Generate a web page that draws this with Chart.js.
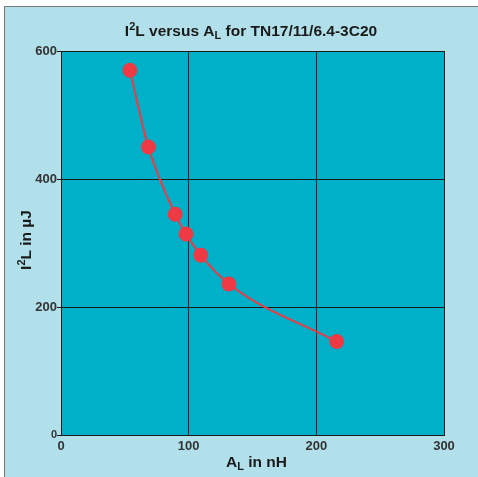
<!DOCTYPE html>
<html>
<head>
<meta charset="utf-8">
<script src="https://cdn.jsdelivr.net/npm/chart.js@4"></script>
<style>
  html, body { margin: 0; padding: 0; background: #fff; }
  #wrap { width: 478px; height: 477px; }
</style>
</head>
<body>
<div id="wrap"><canvas id="chart" width="478" height="477"></canvas></div>
<script>
// data
const alValues = [54, 68.5, 89.5, 98, 109.5, 131.5, 216];   // A_L in nH
const i2lValues = [570, 450, 345, 314, 281, 236, 146];     // I2L in uJ
const xTicks = [0, 100, 200, 300];
const yTicks = [0, 200, 400, 600];

const FONT = "'Liberation Sans', Arial, Helvetica, sans-serif";

// draw text with sub/superscript pieces
function drawRich(ctx, parts, x, y, size) {
  const small = Math.round(size * 0.72);
  let total = 0;
  parts.forEach(p => {
    ctx.font = "bold " + (p.sup || p.sub ? small : size) + "px " + FONT;
    p.w = ctx.measureText(p.t).width;
    total += p.w;
  });
  let cx = x - total / 2;
  ctx.textBaseline = "alphabetic";
  ctx.textAlign = "left";
  parts.forEach(p => {
    ctx.font = "bold " + (p.sup || p.sub ? small : size) + "px " + FONT;
    let dy = 0;
    if (p.sup) dy = -size * 0.38;
    if (p.sub) dy = size * 0.22;
    ctx.fillText(p.t, cx, y + dy);
    cx += p.w;
  });
}

const framePlugin = {
  id: "frame",
  beforeDraw(chart) {
    const ctx = chart.ctx;
    const a = chart.chartArea;
    ctx.save();
    ctx.fillStyle = "#ffffff";
    ctx.fillRect(0, 0, chart.width, chart.height);
    ctx.fillStyle = "#b2e0ea";
    ctx.fillRect(4, 6, chart.width - 4, chart.height - 6);
    ctx.strokeStyle = "#777";
    ctx.lineWidth = 1;
    ctx.beginPath();
    ctx.moveTo(4.5, chart.height);
    ctx.lineTo(4.5, 6.5);
    ctx.lineTo(chart.width, 6.5);
    ctx.stroke();
    ctx.fillStyle = "#00afc8";
    ctx.fillRect(a.left, a.top, a.right - a.left, a.bottom - a.top);
    ctx.restore();
  },
  afterDraw(chart) {
    const ctx = chart.ctx;
    const a = chart.chartArea;
    ctx.save();
    ctx.fillStyle = "#1a1a1a";
    drawRich(ctx, [{t: "I"}, {t: "2", sup: true}, {t: "L versus A"}, {t: "L", sub: true}, {t: " for TN17/11/6.4-3C20"}],
      251, 36, 15.5);
    drawRich(ctx, [{t: "A"}, {t: "L", sub: true}, {t: " in nH"}], (a.left + a.right) / 2 + 4, 467, 15.5);
    ctx.translate(31, 240);
    ctx.rotate(-Math.PI / 2);
    drawRich(ctx, [{t: "I"}, {t: "2", sup: true}, {t: "L in \u00b5J"}], 0, 0, 15.5);
    ctx.restore();
  }
};

new Chart(document.getElementById("chart"), {
  type: "scatter",
  data: {
    datasets: [{
      data: alValues.map((v, i) => ({ x: v, y: i2lValues[i] })),
      showLine: true,
      borderColor: "#ee3a44",
      backgroundColor: "#ee3a44",
      borderWidth: 2,
      pointRadius: 6.5,
      pointHoverRadius: 6.5,
      cubicInterpolationMode: "monotone"
    }]
  },
  options: {
    responsive: false,
    animation: false,
    layout: { padding: { left: 0, top: 51, right: 34, bottom: 0 } },
    plugins: { legend: { display: false }, tooltip: { enabled: false } },
    scales: {
      x: {
        type: "linear",
        min: 0, max: 300,
        afterBuildTicks: s => { s.ticks = xTicks.map(v => ({ value: v })); },
        afterFit: s => { s.height = 42; },
        grid: { color: "#1a1a1a", lineWidth: 1, drawTicks: false },
        border: { color: "#1a1a1a" },
        ticks: { padding: 4, color: "#333", font: { family: FONT, size: 13, weight: "bold" } }
      },
      y: {
        min: 0, max: 600,
        afterBuildTicks: s => { s.ticks = yTicks.map(v => ({ value: v })); },
        afterFit: s => { s.width = 61; },
        grid: { color: "#1a1a1a", lineWidth: 1, tickLength: 4 },
        border: { color: "#1a1a1a" },
        ticks: {
          padding: 0,
          color: "#333",
          font: c => ({ family: FONT, size: c.tick && c.tick.value === 0 ? 11 : 13, weight: "bold" })
        }
      }
    }
  },
  plugins: [framePlugin]
});
</script>
</body>
</html>
